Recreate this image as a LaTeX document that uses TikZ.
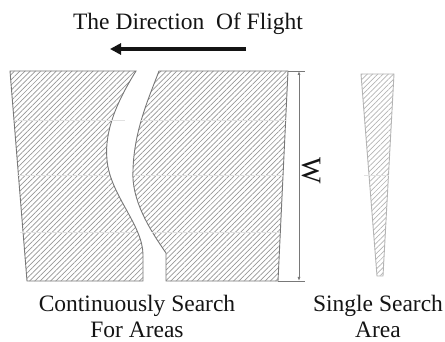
\documentclass[tikz,border=0pt]{standalone}
\usepackage{fontspec}
\setmainfont{Liberation Serif}
\usetikzlibrary{arrows.meta, patterns.meta}
\definecolor{mydark}{RGB}{20,20,20}
\definecolor{myedge}{RGB}{120,120,120}
\definecolor{myhatch}{RGB}{150,150,150}
\definecolor{mylight}{RGB}{180,180,180}
\definecolor{myband}{RGB}{225,225,225}
\tikzset{
  swath/.style={draw=myedge,line width=0.9pt,
    pattern={Lines[angle=45,distance=3.7pt,line width=0.7pt]},pattern color=myhatch},
  single/.style={draw=mylight,line width=0.9pt,
    pattern={Lines[angle=45,distance=3.7pt,line width=0.7pt]},pattern color=mylight},
  band/.style={color=myband,line width=0.5pt},
  dimline/.style={color=myedge,line width=0.8pt},
  label/.style={font=\fontsize{23.5}{26}\selectfont,color=mydark,align=center},
  flight/.style={-{Triangle[length=11pt,width=11pt]},line width=4pt,color=mydark}
}
\begin{document}
\begin{tikzpicture}[x=1pt,y=-1pt]
  \useasboundingbox (0,0) rectangle (445,342);

  % Direction of flight
  \node[label,anchor=base] (title) at (188,30) {The Direction\ \ Of Flight};
  \coordinate (arrowstart) at (246,49);
  \coordinate (arrowend) at (110,49);
  \draw[flight] (arrowstart) -- (arrowend);

  % Left swath
  \path[swath] (10,71) -- (136,71)
    .. controls (118,100) and (104,130) .. (107,160)
    .. controls (110,195) and (143,225) .. (143,255)
    -- (143,281) -- (27,281) -- cycle;
  \draw[band] (14.5,120) -- (125,120);
  \draw[band] (17,175) -- (108,175);
  \draw[band] (20,232) -- (135,232);

  % Right swath
  \path[swath] (159,71) -- (288,71) -- (278,281) -- (166,281) -- (166,253)
    .. controls (150,230) and (131,200) .. (133,170)
    .. controls (134,130) and (150,95) .. (159,71) -- cycle;
  \draw[band] (141,120) -- (286,120);
  \draw[band] (133,175) -- (283,175);
  \draw[band] (152,232) -- (280,232);

  % Width of the swath
  \draw[dimline] (288,71) -- (305,71);
  \draw[dimline] (278,281) -- (305,281);
  \coordinate (wtop) at (299,71);
  \coordinate (wbot) at (299,281);
  \draw[dimline,{Latex[length=4pt,width=3pt]}-{Latex[length=4pt,width=3pt]}] (wtop) -- (wbot);
  \node[label,rotate=-90,font=\fontsize{28}{30}\selectfont] (width) at (311,171) {W};

  % Single search area
  \path[single] (361,74) -- (394,74) -- (383,276) -- (377,276) -- cycle;
  \draw[band] (364,175) -- (389,175);

  % Captions
  \node[label,anchor=north] (cont) at (137,292) {Continuously Search\\For Areas};
  \node[label,anchor=north] (once) at (378,292) {Single Search\\Area};
\end{tikzpicture}
\end{document}
